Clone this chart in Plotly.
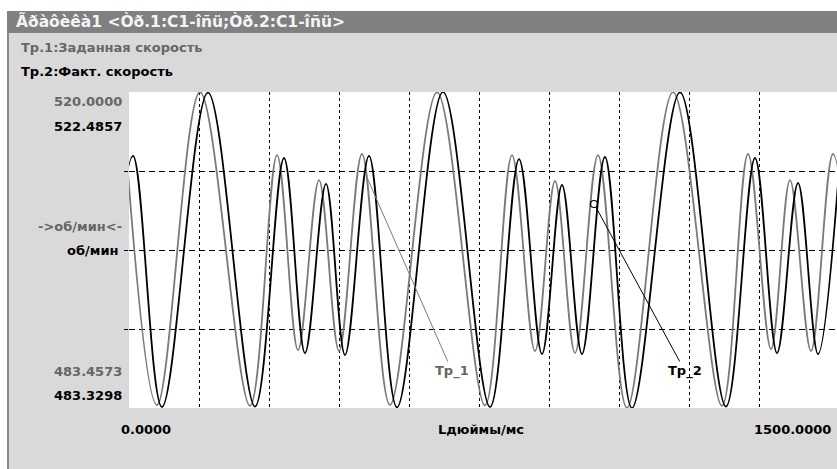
import plotly.graph_objects as go

# ---- data (time in ms, speed in rpm) ----
t_set = [-5.3, 59.9, 151.9, 258.9, 316.7, 361.6, 406.6, 449.4, 498.6, 558.5, 659.1,
         761.8, 819.5, 868.8, 911.6, 954.4, 1003.6, 1065.6, 1164.1, 1268.9, 1324.5,
         1373.8, 1414.4, 1459.4, 1506.4, 1566.3]
v_set = [512.83, 483.80, 520.00, 483.70, 512.71, 490.16, 509.82, 490.05, 512.83, 483.80,
         519.95, 483.75, 512.71, 490.05, 509.71, 489.82, 512.71, 483.46, 519.98, 483.70,
         512.83, 490.28, 509.82, 490.05, 512.83, 483.80]

t_act = [-53.5, 8.6, 70.6, 169.0, 269.6, 331.6, 376.6, 421.5, 462.2, 513.6, 573.5, 671.9,
         772.5, 834.6, 883.7, 926.5, 969.3, 1018.5, 1076.3, 1179.0, 1277.4, 1339.5,
         1386.6, 1431.6, 1474.4, 1521.4]
v_act = [483.58, 514.56, 483.45, 522.40, 483.50, 514.31, 490.14, 511.09, 489.90, 514.56,
         483.40, 522.49, 483.45, 514.18, 490.02, 510.96, 490.02, 514.43, 483.33, 522.45,
         483.50, 514.31, 490.14, 511.21, 490.02, 514.31]

range_set = [483.4573, 520.0000]
range_act = [483.3298, 522.4857]
x_range = [0, 1515.0]
x_grid = [150, 300, 450, 600, 750, 900, 1050, 1200, 1350]

cursor_t = [995.0]
cursor_v = [507.05]

title_text = "Ãðàôèêà1 <Òð.1:C1-îñü;Òð.2:C1-îñü>"
legend1 = "Тр.1:Заданная скорость"
legend2 = "Тр.2:Факт. скорость"
unit1 = "->об/мин<-"
unit2 = "об/мин"
x_left_label = "0.0000"
x_mid_label = "Lдюймы/мс"
x_right_label = "1500.0000"

# ---- layout geometry (pixels) ----
W, H = 837, 469
L, R, T, B = 129, 0, 92, 61
PW, PH = W - L - R, H - T - B

def px(x):
    return (x - L) / PW

def py(y):
    return (H - B - y) / PH

GRAY = "#7a7a7a"
GRAY_TXT = "#666666"
BG = "#d9d9d9"
FONT = "DejaVu Sans"

fig = go.Figure()
fig.add_trace(go.Scatter(x=t_set, y=v_set, mode="lines", yaxis="y",
                         line=dict(color=GRAY, width=1.8, shape="spline", smoothing=1.0),
                         hoverinfo="skip", showlegend=False))
fig.add_trace(go.Scatter(x=t_act, y=v_act, mode="lines", yaxis="y2",
                         line=dict(color="#000000", width=1.8, shape="spline", smoothing=1.0),
                         hoverinfo="skip", showlegend=False))
fig.add_trace(go.Scatter(x=cursor_t, y=cursor_v, mode="markers", yaxis="y",
                         marker=dict(symbol="circle-open", size=7, color="#000000",
                                     line=dict(width=1.2, color="#000000")),
                         hoverinfo="skip", showlegend=False))

q = (range_set[1] - range_set[0]) / 4.0
y_grid = [range_set[0] + q * k for k in (1, 2, 3)]

shapes = [
    dict(type="rect", xref="paper", yref="paper", x0=px(0), x1=px(W), y0=py(11), y1=py(0),
         fillcolor="white", line=dict(width=0), layer="below"),
    dict(type="rect", xref="paper", yref="paper", x0=px(0), x1=px(7), y0=py(H), y1=py(0),
         fillcolor="white", line=dict(width=0), layer="below"),
    dict(type="rect", xref="paper", yref="paper", x0=px(7), x1=px(W), y0=py(33), y1=py(11),
         fillcolor="#808080", line=dict(width=0), layer="below"),
    dict(type="line", xref="paper", yref="paper", x0=px(8), x1=px(8), y0=py(H), y1=py(33),
         line=dict(color="#6e6e6e", width=1.5), layer="below"),
]

def lab(text, x, y, color, anchor="left", size=13):
    return dict(text="<b>%s</b>" % text, xref="paper", yref="paper", x=px(x), y=py(y),
                xanchor=anchor, yanchor="middle", showarrow=False,
                font=dict(family=FONT, size=size, color=color))

annotations = [
    lab(title_text, 14, 22, "#f4f4f4", "left", 15.5),
    lab(legend1, 19, 48, GRAY_TXT),
    lab(legend2, 19, 71, "#000000"),
    lab("520.0000", 124, 102, GRAY_TXT, "right"),
    lab("522.4857", 124, 126, "#000000", "right"),
    lab(unit1, 124, 226, GRAY_TXT, "right"),
    lab(unit2, 120, 250, "#000000", "right"),
    lab("483.4573", 124, 371, GRAY_TXT, "right"),
    lab("483.3298", 124, 395, "#000000", "right"),
    lab(x_left_label, 146, 429, "#000000", "center"),
    lab(x_mid_label, 481, 429, "#000000", "center"),
    lab(x_right_label, 833, 429, "#000000", "right"),
    dict(text="<b>Тр_1</b>", x=507, y=510.40, xref="x", yref="y", ax=86, ay=196,
         showarrow=True, arrowhead=0, arrowwidth=1, arrowcolor=GRAY, standoff=0,
         font=dict(family=FONT, size=13, color=GRAY_TXT)),
    dict(text="<b>Тр_2</b>", x=999, y=506.70, xref="x", yref="y", ax=89, ay=164,
         showarrow=True, arrowhead=0, arrowwidth=1, arrowcolor="#000000", standoff=0,
         font=dict(family=FONT, size=13, color="#000000")),
]

fig.update_layout(
    width=W, height=H,
    margin=dict(l=L, r=R, t=T, b=B, pad=0),
    paper_bgcolor=BG, plot_bgcolor="white",
    showlegend=False,
    shapes=shapes, annotations=annotations,
    xaxis=dict(range=x_range, tickvals=x_grid, showticklabels=False, ticks="",
               showgrid=True, gridcolor="#000000", gridwidth=1, griddash="3px,3px",
               zeroline=False, showline=False, fixedrange=True),
    yaxis=dict(range=range_set, tickvals=y_grid, showticklabels=False, ticks="outside",
               ticklen=4, tickcolor="#000000",
               showgrid=True, gridcolor="#000000", gridwidth=1, griddash="6px,4px",
               zeroline=False, showline=False, fixedrange=True),
    yaxis2=dict(range=range_act, overlaying="y", visible=False, fixedrange=True),
)

fig.write_html("out.html", config=dict(displayModeBar=False))
